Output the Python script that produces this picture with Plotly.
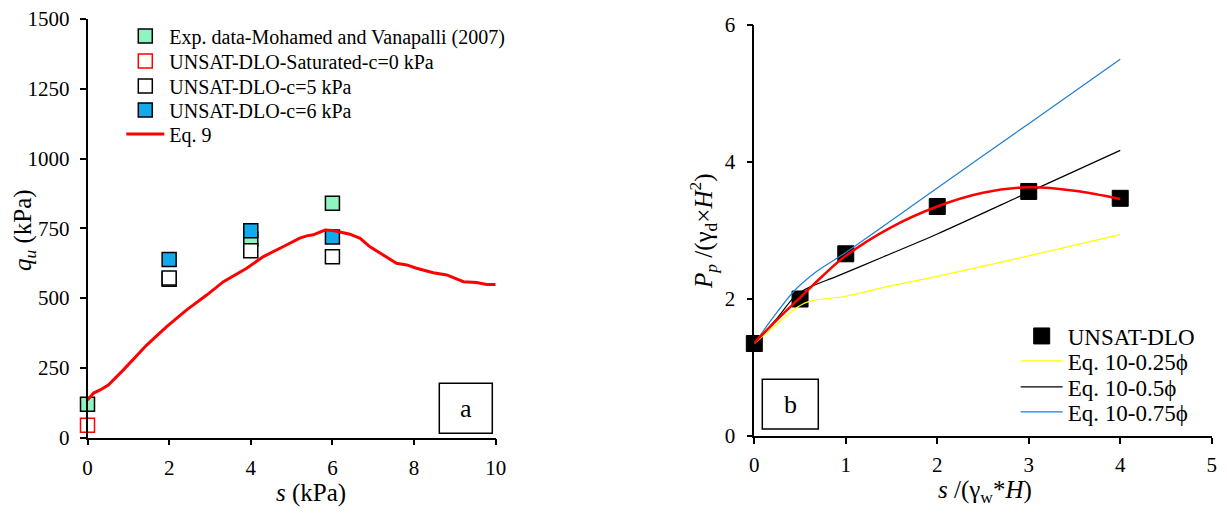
import plotly.graph_objects as go

# ---------------- Panel (a) data ----------------
s_exp = [0, 2, 4, 6]
q_exp = [120, 568, 712, 840]
s_sat = [0]
q_sat = [45]
s_c5 = [2, 4, 6]
q_c5 = [572, 670, 648]
s_c6 = [2, 4, 6]
q_c6 = [638, 741, 719]
s_eq9 = [0, 0.15, 0.31, 0.51, 0.88, 1.45, 1.94, 2.43, 2.92, 3.33, 3.90, 4.31, 4.8,
         5.2, 5.37, 5.53, 5.82, 6.02, 6.43, 6.68, 6.92, 7.17, 7.57, 7.82, 8.06,
         8.47, 8.80, 9.21, 9.53, 9.78, 10.0]
q_eq9 = [135, 160, 171, 189, 243, 332, 398, 458, 511, 559, 607, 649, 685,
         715, 723, 727, 744, 742, 729, 714, 684, 661, 625, 619, 607,
         591, 583, 559, 556, 549, 549]

# ---------------- Panel (b) data ----------------
x_dlo = [0, 0.5, 1, 2, 3, 4]
p_dlo = [1.35, 2.0, 2.66, 3.35, 3.57, 3.47]
x_fit = [0, 0.25, 0.5, 0.75, 1, 1.5, 2, 2.5, 3, 3.5, 4]
p_fit = [1.36, 1.70, 2.02, 2.34, 2.63, 3.05, 3.35, 3.55, 3.63, 3.58, 3.46]
x_025 = [0, 0.2, 0.43, 0.55, 0.65, 1, 1.45, 2, 3, 4]
p_025 = [1.35, 1.58, 1.84, 1.94, 1.98, 2.04, 2.18, 2.33, 2.63, 2.94]
x_050 = [0, 0.25, 0.45, 0.6, 0.9, 1.4, 2, 3, 4]
p_050 = [1.35, 1.72, 2.05, 2.17, 2.33, 2.61, 2.95, 3.56, 4.17]
x_075 = [0, 0.2, 0.43, 0.68, 1, 2, 3, 4]
p_075 = [1.35, 1.72, 2.11, 2.40, 2.68, 3.62, 4.56, 5.50]

FONT = "Liberation Serif, Times New Roman, Times, serif"
OFF = 8            # default page body margin
W, H = 1211, 500   # figure size inside the page


def px(x):
    return (x - OFF) / W


def py(y):
    return 1 - (y - OFF) / H


fig = go.Figure()

# Panel (a)
fig.add_trace(go.Scatter(x=s_exp, y=q_exp, mode="markers", name="Exp. data-Mohamed and Vanapalli (2007)",
                         marker=dict(symbol="square", size=14, color="#8ff5c0", line=dict(color="black", width=1.5)),
                         xaxis="x", yaxis="y", legend="legend", cliponaxis=False))
fig.add_trace(go.Scatter(x=s_sat, y=q_sat, mode="markers", name="UNSAT-DLO-Saturated-c=0 kPa",
                         marker=dict(symbol="square", size=14, color="white", line=dict(color="#ff0000", width=1.5)),
                         xaxis="x", yaxis="y", legend="legend2", cliponaxis=False))
fig.add_trace(go.Scatter(x=s_c5, y=q_c5, mode="markers", name="UNSAT-DLO-c=5 kPa",
                         marker=dict(symbol="square", size=14, color="white", line=dict(color="black", width=1.5)),
                         xaxis="x", yaxis="y", legend="legend3", cliponaxis=False))
fig.add_trace(go.Scatter(x=s_c6, y=q_c6, mode="markers", name="UNSAT-DLO-c=6 kPa",
                         marker=dict(symbol="square", size=14, color="#12aaea", line=dict(color="black", width=1.5)),
                         xaxis="x", yaxis="y", legend="legend4", cliponaxis=False))
fig.add_trace(go.Scatter(x=s_eq9, y=q_eq9, mode="lines", name="Eq. 9",
                         line=dict(color="#ff0000", width=3),
                         xaxis="x", yaxis="y", legend="legend5"))

# Panel (b)
fig.add_trace(go.Scatter(x=x_dlo, y=p_dlo, mode="markers", name="UNSAT-DLO",
                         marker=dict(symbol="square", size=16, color="black", line=dict(color="black", width=1)),
                         xaxis="x2", yaxis="y2", legend="legend6", cliponaxis=False))
fig.add_trace(go.Scatter(x=x_025, y=p_025, mode="lines", name="Eq. 10-0.25ϕ", line_shape="spline",
                         line=dict(color="#ffff00", width=1.2, smoothing=0.8),
                         xaxis="x2", yaxis="y2", legend="legend7"))
fig.add_trace(go.Scatter(x=x_050, y=p_050, mode="lines", name="Eq. 10-0.5ϕ", line_shape="spline",
                         line=dict(color="black", width=1.2, smoothing=0.8),
                         xaxis="x2", yaxis="y2", legend="legend8"))
fig.add_trace(go.Scatter(x=x_075, y=p_075, mode="lines", name="Eq. 10-0.75ϕ", line_shape="spline",
                         line=dict(color="#1f7fd0", width=1.2, smoothing=0.8),
                         xaxis="x2", yaxis="y2", legend="legend9"))
fig.add_trace(go.Scatter(x=x_fit, y=p_fit, mode="lines", name="fit", line_shape="spline", showlegend=False,
                         line=dict(color="#ff0000", width=2.5), xaxis="x2", yaxis="y2"))

axis_common = dict(showgrid=False, zeroline=False, showline=True, linecolor="black", linewidth=1.5,
                   ticks="outside", ticklen=6, tickwidth=1.5, tickcolor="black", automargin=False,
                   ticklabeloverflow="allow",
                   tickfont=dict(family=FONT, size=21, color="black"))

TF = dict(family=FONT, size=25, color="black")


def leg(x_marker, y_center, size, itemwidth):
    return dict(x=px(x_marker - 22), y=py(y_center), xanchor="left", yanchor="middle",
                bgcolor="rgba(0,0,0,0)", font=dict(family=FONT, size=size, color="black"),
                itemwidth=itemwidth, tracegroupgap=0)


legends = {}
for i, yc in enumerate([36, 61, 86, 110, 134]):
    legends["legend" if i == 0 else "legend%d" % (i + 1)] = leg(143.3, yc, 20, 38)
for i, yc in enumerate([336, 361, 387, 412]):
    legends["legend%d" % (i + 6)] = leg(1037.7, yc, 23, 42)

fig.update_layout(
    width=W, height=H,
    margin=dict(l=0, r=0, t=0, b=0),
    paper_bgcolor="white", plot_bgcolor="white",
    font=dict(family=FONT, color="black"),
    xaxis=dict(domain=[px(87.5), px(495.7)], range=[0, 10], tickvals=[0, 2, 4, 6, 8, 10],
               ticklabelstandoff=4, **axis_common),
    yaxis=dict(domain=[py(437.7), py(19)], range=[0, 1500], tickvals=[0, 250, 500, 750, 1000, 1250, 1500],
               ticklabelstandoff=6, **axis_common),
    xaxis2=dict(domain=[px(754.3), px(1211.7)], range=[0, 5], tickvals=[0, 1, 2, 3, 4, 5], anchor="y2",
                ticklabelstandoff=3, **axis_common),
    yaxis2=dict(domain=[py(436), py(25)], range=[0, 6], tickvals=[0, 2, 4, 6], anchor="x2",
                ticklabelstandoff=7, **axis_common),
    shapes=[
        dict(type="rect", xref="paper", yref="paper", x0=px(439.3), x1=px(492.3),
             y0=py(433.3), y1=py(383.3), line=dict(color="black", width=1.5)),
        dict(type="rect", xref="paper", yref="paper", x0=px(762.3), x1=px(818.3),
             y0=py(429), y1=py(379.3), line=dict(color="black", width=1.5)),
    ],
    annotations=[
        dict(text="a", xref="paper", yref="paper", x=px(465.8), y=py(408.3), xanchor="center", yanchor="middle",
             showarrow=False, font=dict(family=FONT, size=26, color="black")),
        dict(text="b", xref="paper", yref="paper", x=px(790.3), y=py(404.2), xanchor="center", yanchor="middle",
             showarrow=False, font=dict(family=FONT, size=26, color="black")),
        dict(text="<i>s</i> (kPa)", xref="paper", yref="paper", x=px(311), y=py(493),
             xanchor="center", yanchor="middle", showarrow=False, font=TF),
        dict(text="<i>q</i><sub><i>u</i></sub> (kPa)", xref="paper", yref="paper", x=px(25), y=py(230),
             xanchor="center", yanchor="middle", showarrow=False, textangle=-90, font=TF),
        dict(text="<i>s</i> /(γ<sub>w</sub>*<i>H</i>)", xref="paper", yref="paper", x=px(985), y=py(491),
             xanchor="center", yanchor="middle", showarrow=False, font=TF),
        dict(text="<i>P</i><sub><i>p</i></sub> /(γ<sub>d</sub>×<i>H</i><sup>2</sup>)", xref="paper", yref="paper",
             x=px(703), y=py(231), xanchor="center", yanchor="middle", showarrow=False, textangle=-90, font=TF),
    ],
    **legends,
)

fig.write_html("out.html")
